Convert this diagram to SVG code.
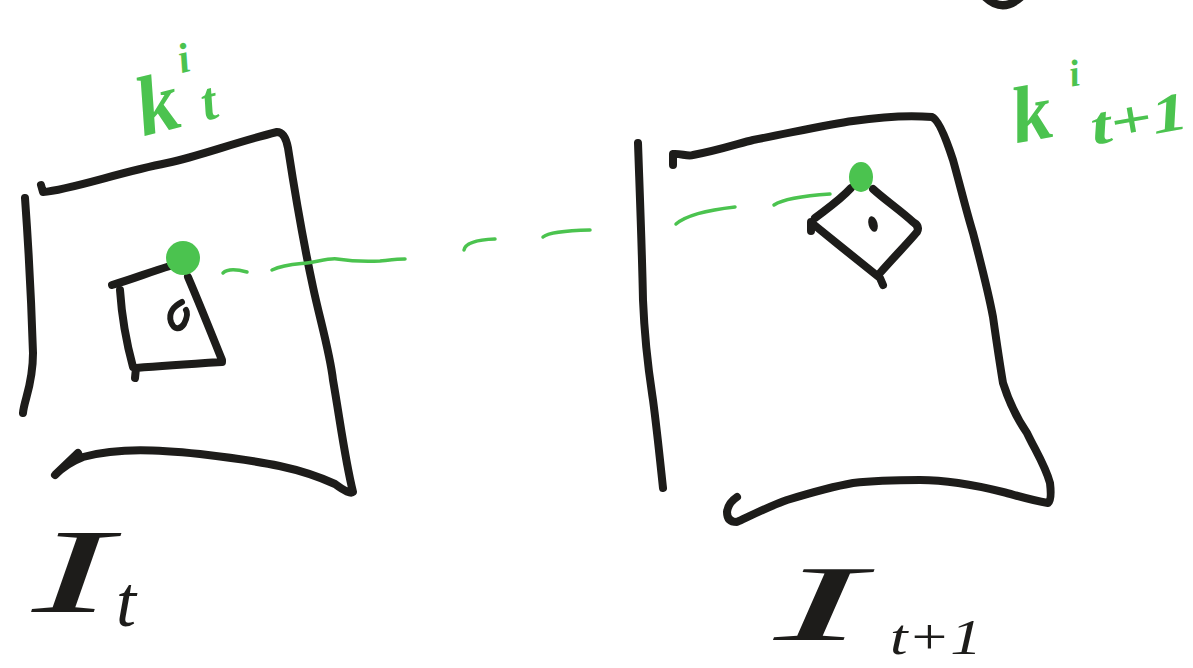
<svg xmlns="http://www.w3.org/2000/svg" width="1193" height="668" viewBox="0 0 1193 668">
<style>
.ink{fill:none;stroke:#1d1c1a;stroke-width:8;stroke-linecap:round;stroke-linejoin:round}
.thin{fill:none;stroke:#1d1c1a;stroke-width:6;stroke-linecap:round;stroke-linejoin:round}
.dash{fill:none;stroke:#4bc34f;stroke-width:3.5;stroke-linecap:round;stroke-linejoin:round}
.kp{fill:#4bc34f}
.lblg{font-family:"Liberation Serif",serif;font-style:italic;font-weight:bold;fill:#4bc34f}
.lblk{font-family:"Liberation Serif",serif;font-style:italic;fill:#1d1c1a}
</style>
<rect width="1193" height="668" fill="#ffffff"/>
<path class="ink" d="M984 -4 Q1002 14 1021 -3" stroke-width="10"/>
<g id="frame-t">
  <path class="ink" d="M25 198 C28 240 31 290 33 353 C33 385 24 400 23 413"/>
  <path class="ink" d="M41 185 L43 192 C70 190 120 172 167 163 C200 156 233 143 277 132 Q285 132 288 148 C296 200 305 250 313 287 C320 320 330 353 333 380 C340 420 345 460 353 492 Q350 495 335 484 C300 468 267 462 200 454 C160 450 120 447 83 457 C70 462 60 470 55 475 L78 453"/>
  <text class="lblk" x="32" y="612" font-size="120" textLength="80" lengthAdjust="spacingAndGlyphs">I</text>
  <text class="lblk" x="116" y="626" font-size="72">t</text>
</g>
<g id="patch-t">
  <path class="ink" d="M112 285 C130 280 150 272 170 266"/>
  <path class="ink" d="M188 277 C200 305 212 335 222 360 L222 362 C190 364 160 366 136 368 L135 378"/>
  <path class="ink" d="M120 290 C122 320 127 345 133 367"/>
  <path class="thin" d="M182 302 C174 306 168 313 171 322 C174 330 180 330 184 324 C187 318 188 313 186 310"/>
  <circle class="kp" cx="183" cy="258" r="17"/>
  <g transform="rotate(-14 190 100)">
    <text class="lblg" x="136" y="124" font-size="84">k</text>
    <text class="lblg" x="188" y="72" font-size="42">i</text>
    <text class="lblg" x="200" y="124" font-size="54">t</text>
  </g>
</g>
<g id="frame-t1">
  <path class="ink" d="M638 143 C640 200 642 250 643 300 C645 350 650 380 653 400 C657 430 660 460 663 488"/>
  <path class="ink" d="M673 165 L673 154 C680 153 688 157 693 155 C720 150 740 143 753 140 C790 133 830 124 853 121 C880 117 910 115 932 117 Q940 120 953 160 C960 185 966 210 973 233 C980 260 988 290 993 317 C997 345 1000 365 1003 383 C1010 405 1018 420 1027 433 C1035 450 1045 465 1050 483 Q1052 500 1048 503 C1030 500 1015 495 1003 492 C975 485 950 480 920 480 C895 480 870 481 853 483 C830 487 810 493 787 500 C770 506 752 515 737 522 Q727 522 727 512 Q728 503 737 497"/>
  <text class="lblk" x="774" y="640" font-size="108" textLength="90" lengthAdjust="spacingAndGlyphs">I</text>
  <text class="lblk" x="890" y="654" font-size="50" textLength="92" lengthAdjust="spacingAndGlyphs">t+1</text>
</g>
<g id="patch-t1">
  <path class="ink" d="M851 188 C840 200 828 208 815 218"/>
  <path class="ink" d="M811 222 L811 231 M813 224 C835 242 860 262 880 278 L883 285"/>
  <path class="ink" d="M880 273 C893 258 907 244 917 232 Q920 226 913 222 C900 210 885 200 873 189"/>
  <ellipse cx="873" cy="224" rx="4.5" ry="8" transform="rotate(-15 873 224)" fill="#1d1c1a"/>
  <ellipse class="kp" cx="861" cy="177" rx="12" ry="15"/>
  <g transform="rotate(-10 1100 100)">
    <text class="lblg" x="1010" y="128" font-size="80">k</text>
    <text class="lblg" x="1074" y="82" font-size="38">i</text>
    <text class="lblg" x="1086" y="143" font-size="54" textLength="98" lengthAdjust="spacingAndGlyphs">t+1</text>
  </g>
</g>
<g id="connectors">
  <path class="dash" d="M223 273 Q229 267 247 272"/>
  <path class="dash" d="M272 270 C285 264 300 264 307 263 C320 261 330 258 337 259 C350 261 360 262 380 261 C390 260 398 259 405 259"/>
  <path class="dash" d="M464 250 Q466 240 495 239"/>
  <path class="dash" d="M543 237 Q550 231 590 230"/>
  <path class="dash" d="M676 224 Q690 212 735 207"/>
  <path class="dash" d="M774 205 Q786 197 830 194"/>
</g>
</svg>
